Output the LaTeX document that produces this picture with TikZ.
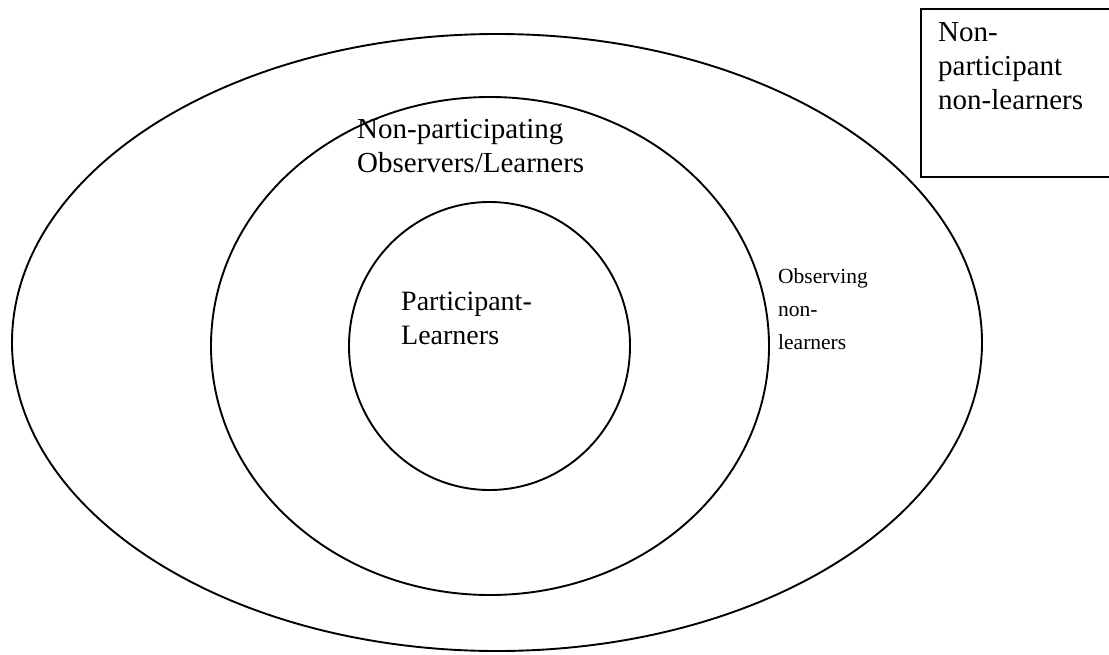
\documentclass[tikz,border=0pt]{standalone}
\usepackage{fontspec}
\setmainfont{Liberation Serif}
\usepackage{tikz}
\usetikzlibrary{positioning}

\tikzset{
  ring/.style={line width=1.9pt},
  label/.style={anchor=north west, inner sep=0pt, align=left,
    font=\fontsize{29}{34}\selectfont},
  smalllabel/.style={label, font=\fontsize{21.5}{33}\selectfont}
}

\begin{document}
\begin{tikzpicture}[x=1pt, y=-1pt]
  \useasboundingbox (0,0) rectangle (1109,654);
  % Outer ellipse
  \draw[ring] (497,342.5) ellipse (485 and 308.5);
  % Middle circle
  \draw[ring] (490,346) ellipse (279 and 249);
  % Inner circle
  \draw[ring] (489.5,346) ellipse (140.5 and 144);
  % Box at the corner, covering the ellipse
  \fill[white] (921,9) rectangle (1120,177);
  \draw[ring] (1120,9) -- (921,9) -- (921,177) -- (1120,177);
  % Labels
  \node[label] (nonpart) at (357,119) {Non-participating\\Observers/Learners};
  \node[label, font=\fontsize{28}{34}\selectfont] (partlearn) at (401,292) {Participant-\\Learners};
  \node[smalllabel] (observ) at (778,268) {Observing\\non-\\learners};
  \node[label] (nonlearn) at (938,22) {Non-\\participant\\non-learners};
\end{tikzpicture}
\end{document}
